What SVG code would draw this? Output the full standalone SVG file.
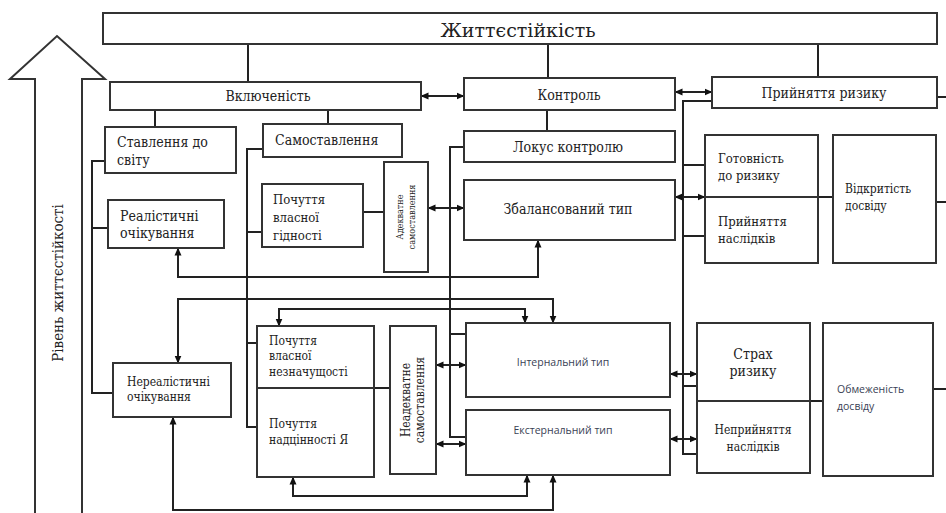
<svg xmlns="http://www.w3.org/2000/svg" width="946" height="513" viewBox="0 0 946 513">
<defs>
<marker id="ah" viewBox="0 0 8 8" refX="7.5" refY="4" markerWidth="8" markerHeight="8" markerUnits="userSpaceOnUse" orient="auto-start-reverse">
<path d="M0,0.5 L8,4 L0,7.5 Z" fill="#111"/>
</marker>
<style>
.b{fill:#fff;stroke:#333;stroke-width:2}
.c{fill:none;stroke:#222;stroke-width:2}
.d{marker-start:url(#ah);marker-end:url(#ah)}
.t{fill:#222}
.tc{text-anchor:middle}
.s{fill:#3a3f55}
</style>
</defs>
<rect width="946" height="513" fill="#fff"/>
<g id="level-arrow">
<path d="M35,513 L35,79 L10,79 L57,36 L105,79 L82,79 L82,513" fill="#fff" stroke="#333" stroke-width="2"/>
<text class="t tc" transform="translate(63,283) rotate(-90)" font-family="DejaVu Serif Condensed, DejaVu Serif, serif" font-size="15">Рівень життєстійкості</text>
</g>
<g id="connectors">
<path class="c" d="M248,44 V82 M548,44 V78 M818,44 V77"/>
<path class="c d" d="M421,96 H464"/>
<path class="c d" d="M675,92 H712"/>
<path class="c" d="M155,110 V127 M328,110 V124"/>
<path class="c" d="M105,161 H92 V393 H113 M92,228 H108"/>
<path class="c" d="M263,149 H247 V427 H257 M247,232 H262 M247,343 H257"/>
<path class="c" d="M363,212 H384"/>
<path class="c d" d="M428,208 H464"/>
<path class="c" d="M547,110 V131"/>
<path class="c" d="M464,147 H450 V437 H466 M450,334 H466"/>
<path class="c d" d="M178,248 V277 H538 V240"/>
<path class="c d" d="M178,363 V299 H553 V323"/>
<path class="c d" d="M279,326 V309 H525 V323"/>
<path class="c" d="M374,388 H390"/>
<path class="c d" d="M436,365 H466"/>
<path class="c d" d="M436,444 H466"/>
<path class="c d" d="M173,417 V510 H553 V475"/>
<path class="c d" d="M293,477 V496 H527 V475"/>
<path class="c" d="M712,101 H683 V454 H697 M683,165 H705 M683,236 H705 M683,386 H697"/>
<path class="c d" d="M675,197 H705"/>
<path class="c" d="M818,197 H833 M936,202 H946 M937,97 H946"/>
<path class="c d" d="M670,374 H697"/>
<path class="c d" d="M670,439 H697"/>
<path class="c" d="M810,401 H823 M933,389 H946"/>
</g>
<g font-family="DejaVu Serif Condensed, DejaVu Serif, serif" font-size="13">
<g id="zhyttiestiikist">
<rect class="b" x="103" y="13" width="834" height="31"/>
<text class="t tc" x="518" y="37" font-family="DejaVu Serif, serif" font-size="19">Життєстійкість</text>
</g>
<g id="vkliuchenist">
<rect class="b" x="110" y="82" width="311" height="28"/>
<text class="t tc" x="268" y="101" font-size="14">Включеність</text>
</g>
<g id="kontrol">
<rect class="b" x="464" y="78" width="211" height="32"/>
<text class="t tc" x="569" y="100" font-size="14">Контроль</text>
</g>
<g id="pryiniattia-ryzyku">
<rect class="b" x="712" y="77" width="225" height="31"/>
<text class="t tc" x="824" y="98" font-size="14">Прийняття ризику</text>
</g>
<g id="stavlennia-do-svitu">
<rect class="b" x="105" y="127" width="131" height="46"/>
<text class="t" x="117" y="147" font-size="14">Ставлення до</text>
<text class="t" x="117" y="165" font-size="14">світу</text>
</g>
<g id="samostavlennia">
<rect class="b" x="263" y="124" width="139" height="33"/>
<text class="t" x="275" y="145" font-size="14">Самоставлення</text>
</g>
<g id="realistychni">
<rect class="b" x="108" y="200" width="116" height="48"/>
<text class="t" x="120" y="221" font-size="14">Реалістичні</text>
<text class="t" x="120" y="238" font-size="14">очікування</text>
</g>
<g id="gidnist">
<rect class="b" x="262" y="184" width="101" height="63"/>
<text class="t" x="273" y="204">Почуття</text>
<text class="t" x="273" y="222">власної</text>
<text class="t" x="273" y="240">гідності</text>
</g>
<g id="adekvatne">
<rect class="b" x="384" y="162" width="44" height="110"/>
<text class="t tc" transform="translate(403,217) rotate(-90)" font-size="9">Адекватне</text>
<text class="t tc" transform="translate(415,217) rotate(-90)" font-size="9">самоставлення</text>
</g>
<g id="lokus">
<rect class="b" x="464" y="131" width="211" height="31"/>
<text class="t tc" x="568" y="152" font-size="14">Локус контролю</text>
</g>
<g id="zbalansovanyi">
<rect class="b" x="464" y="180" width="211" height="60"/>
<text class="t tc" x="568" y="214" font-size="14">Збалансований тип</text>
</g>
<g id="gotovnist-pryiniattia">
<rect class="b" x="705" y="135" width="113" height="128"/>
<line x1="705" y1="197" x2="818" y2="197" stroke="#333" stroke-width="2"/>
<text class="t" x="718" y="163">Готовність</text>
<text class="t" x="718" y="180">до ризику</text>
<text class="t" x="718" y="226">Прийняття</text>
<text class="t" x="718" y="243">наслідків</text>
</g>
<g id="vidkrytist">
<rect class="b" x="833" y="135" width="103" height="128"/>
<text class="t" x="845" y="193" font-size="12">Відкритість</text>
<text class="t" x="845" y="210" font-size="12">досвіду</text>
</g>
<g id="nerealistychni">
<rect class="b" x="113" y="363" width="118" height="54"/>
<text class="t" x="127" y="386" font-size="12">Нереалістичні</text>
<text class="t" x="127" y="401" font-size="12">очікування</text>
</g>
<g id="neznachushchist-nadtsinnist">
<rect class="b" x="257" y="326" width="117" height="151"/>
<line x1="257" y1="388" x2="374" y2="388" stroke="#333" stroke-width="2"/>
<text class="t" x="269" y="345" font-size="12">Почуття</text>
<text class="t" x="269" y="360" font-size="12">власної</text>
<text class="t" x="269" y="376" font-size="12">незначущості</text>
<text class="t" x="269" y="428" font-size="12">Почуття</text>
<text class="t" x="269" y="444" font-size="12">надцінності Я</text>
</g>
<g id="neadekvatne">
<rect class="b" x="390" y="326" width="46" height="148"/>
<text class="t tc" transform="translate(410,400) rotate(-90)" font-size="12">Неадекватне</text>
<text class="t tc" transform="translate(424,400) rotate(-90)" font-size="12">самоставлення</text>
</g>
<g id="strakh-nepryiniattia">
<rect class="b" x="697" y="323" width="113" height="150"/>
<line x1="697" y1="401" x2="810" y2="401" stroke="#333" stroke-width="2"/>
<text class="t tc" x="753" y="359" font-size="14">Страх</text>
<text class="t tc" x="753" y="376" font-size="14">ризику</text>
<text class="t tc" x="753" y="434" font-size="12">Неприйняття</text>
<text class="t tc" x="753" y="451" font-size="12">наслідків</text>
</g>
</g>
<g font-family="Open Sans, Liberation Sans, sans-serif" font-size="10.5">
<g id="internalnyi">
<rect class="b" x="466" y="323" width="204" height="74"/>
<text class="s tc" x="563" y="366">Інтернальний тип</text>
</g>
<g id="eksternalnyi">
<rect class="b" x="466" y="410" width="204" height="65"/>
<text class="s tc" x="563" y="434">Екстернальний тип</text>
</g>
<g id="obmezhenist">
<rect class="b" x="823" y="323" width="110" height="153"/>
<text class="s" x="837" y="393">Обмеженість</text>
<text class="s" x="837" y="410">досвіду</text>
</g>
</g>
</svg>
